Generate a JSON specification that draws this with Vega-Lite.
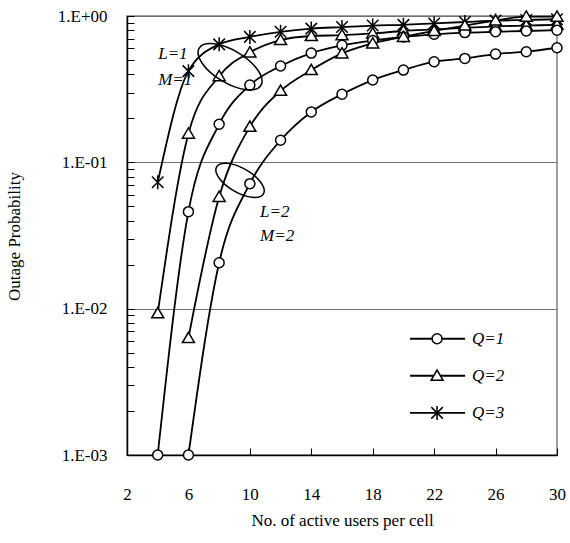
{
  "$schema": "https://vega.github.io/schema/vega-lite/v6.json",
  "width": 430,
  "height": 439,
  "autosize": {"type": "none"},
  "padding": {"left": 127, "top": 16, "right": 13, "bottom": 88},
  "config": {
    "view": {"stroke": "#808080", "strokeWidth": 1.5},
    "font": "Liberation Serif",
    "axis": {"labelFont": "Liberation Serif", "titleFont": "Liberation Serif", "labelColor": "black", "titleColor": "black", "titleFontWeight": "normal"}
  },
  "datasets": {
    "curves": [
      {"s": "L1Q3", "Q": "Q=3", "n": 4, "p": 0.073},
      {"s": "L1Q3", "Q": "Q=3", "n": 6, "p": 0.42},
      {"s": "L1Q3", "Q": "Q=3", "n": 8, "p": 0.64},
      {"s": "L1Q3", "Q": "Q=3", "n": 10, "p": 0.72},
      {"s": "L1Q3", "Q": "Q=3", "n": 12, "p": 0.78},
      {"s": "L1Q3", "Q": "Q=3", "n": 14, "p": 0.82},
      {"s": "L1Q3", "Q": "Q=3", "n": 16, "p": 0.84},
      {"s": "L1Q3", "Q": "Q=3", "n": 18, "p": 0.86},
      {"s": "L1Q3", "Q": "Q=3", "n": 20, "p": 0.87},
      {"s": "L1Q3", "Q": "Q=3", "n": 22, "p": 0.89},
      {"s": "L1Q3", "Q": "Q=3", "n": 24, "p": 0.91},
      {"s": "L1Q3", "Q": "Q=3", "n": 26, "p": 0.93},
      {"s": "L1Q3", "Q": "Q=3", "n": 28, "p": 0.94},
      {"s": "L1Q3", "Q": "Q=3", "n": 30, "p": 0.95},
      {"s": "L1Q2", "Q": "Q=2", "n": 4, "p": 0.0093},
      {"s": "L1Q2", "Q": "Q=2", "n": 6, "p": 0.157},
      {"s": "L1Q2", "Q": "Q=2", "n": 8, "p": 0.388},
      {"s": "L1Q2", "Q": "Q=2", "n": 10, "p": 0.564},
      {"s": "L1Q2", "Q": "Q=2", "n": 12, "p": 0.685},
      {"s": "L1Q2", "Q": "Q=2", "n": 14, "p": 0.73},
      {"s": "L1Q2", "Q": "Q=2", "n": 16, "p": 0.74},
      {"s": "L1Q2", "Q": "Q=2", "n": 18, "p": 0.76},
      {"s": "L1Q2", "Q": "Q=2", "n": 20, "p": 0.79},
      {"s": "L1Q2", "Q": "Q=2", "n": 22, "p": 0.81},
      {"s": "L1Q2", "Q": "Q=2", "n": 24, "p": 0.83},
      {"s": "L1Q2", "Q": "Q=2", "n": 26, "p": 0.85},
      {"s": "L1Q2", "Q": "Q=2", "n": 28, "p": 0.86},
      {"s": "L1Q2", "Q": "Q=2", "n": 30, "p": 0.87},
      {"s": "L1Q1", "Q": "Q=1", "n": 4, "p": 0.001},
      {"s": "L1Q1", "Q": "Q=1", "n": 6, "p": 0.046},
      {"s": "L1Q1", "Q": "Q=1", "n": 8, "p": 0.182},
      {"s": "L1Q1", "Q": "Q=1", "n": 10, "p": 0.337},
      {"s": "L1Q1", "Q": "Q=1", "n": 12, "p": 0.455},
      {"s": "L1Q1", "Q": "Q=1", "n": 14, "p": 0.558},
      {"s": "L1Q1", "Q": "Q=1", "n": 16, "p": 0.63},
      {"s": "L1Q1", "Q": "Q=1", "n": 18, "p": 0.68},
      {"s": "L1Q1", "Q": "Q=1", "n": 20, "p": 0.72},
      {"s": "L1Q1", "Q": "Q=1", "n": 22, "p": 0.75},
      {"s": "L1Q1", "Q": "Q=1", "n": 24, "p": 0.77},
      {"s": "L1Q1", "Q": "Q=1", "n": 26, "p": 0.78},
      {"s": "L1Q1", "Q": "Q=1", "n": 28, "p": 0.79},
      {"s": "L1Q1", "Q": "Q=1", "n": 30, "p": 0.80},
      {"s": "L2Q2", "Q": "Q=2", "n": 6, "p": 0.0063},
      {"s": "L2Q2", "Q": "Q=2", "n": 8, "p": 0.058},
      {"s": "L2Q2", "Q": "Q=2", "n": 10, "p": 0.175},
      {"s": "L2Q2", "Q": "Q=2", "n": 12, "p": 0.308},
      {"s": "L2Q2", "Q": "Q=2", "n": 14, "p": 0.427},
      {"s": "L2Q2", "Q": "Q=2", "n": 16, "p": 0.555},
      {"s": "L2Q2", "Q": "Q=2", "n": 18, "p": 0.65},
      {"s": "L2Q2", "Q": "Q=2", "n": 20, "p": 0.72},
      {"s": "L2Q2", "Q": "Q=2", "n": 22, "p": 0.79},
      {"s": "L2Q2", "Q": "Q=2", "n": 24, "p": 0.86},
      {"s": "L2Q2", "Q": "Q=2", "n": 26, "p": 0.93},
      {"s": "L2Q2", "Q": "Q=2", "n": 28, "p": 0.99},
      {"s": "L2Q2", "Q": "Q=2", "n": 30, "p": 0.99},
      {"s": "L2Q1", "Q": "Q=1", "n": 6, "p": 0.001},
      {"s": "L2Q1", "Q": "Q=1", "n": 8, "p": 0.0206},
      {"s": "L2Q1", "Q": "Q=1", "n": 10, "p": 0.0715},
      {"s": "L2Q1", "Q": "Q=1", "n": 12, "p": 0.1415},
      {"s": "L2Q1", "Q": "Q=1", "n": 14, "p": 0.221},
      {"s": "L2Q1", "Q": "Q=1", "n": 16, "p": 0.292},
      {"s": "L2Q1", "Q": "Q=1", "n": 18, "p": 0.365},
      {"s": "L2Q1", "Q": "Q=1", "n": 20, "p": 0.427},
      {"s": "L2Q1", "Q": "Q=1", "n": 22, "p": 0.487},
      {"s": "L2Q1", "Q": "Q=1", "n": 24, "p": 0.513},
      {"s": "L2Q1", "Q": "Q=1", "n": 26, "p": 0.549},
      {"s": "L2Q1", "Q": "Q=1", "n": 28, "p": 0.570},
      {"s": "L2Q1", "Q": "Q=1", "n": 30, "p": 0.607}
    ],
    "legendRows": [
      {"Q": "Q=1", "n": 22.19, "p": 0.00623},
      {"Q": "Q=2", "n": 22.19, "p": 0.00348},
      {"Q": "Q=3", "n": 22.19, "p": 0.00194}
    ]
  },
  "layer": [
    {
      "data": {"name": "curves"},
      "mark": {"type": "line", "interpolate": "monotone", "color": "black", "strokeWidth": 1.8},
      "encoding": {
        "x": {
          "field": "n", "type": "quantitative",
          "scale": {"domain": [2, 30], "nice": false, "zero": false},
          "axis": {
            "title": "No. of active users per cell",
            "values": [2, 6, 10, 14, 18, 22, 26, 30],
            "grid": false,
            "domainColor": "black", "domainWidth": 1.5,
            "tickColor": "black", "tickSize": -7, "tickWidth": 1,
            "labelFontSize": 17, "labelPadding": 38, "labelFlush": false,
            "titleFontSize": 17, "titleY": 65, "titleBaseline": "middle"
          }
        },
        "y": {
          "field": "p", "type": "quantitative",
          "scale": {"type": "log", "domain": [0.001, 1], "nice": false},
          "axis": {
            "title": "Outage Probability",
            "values": [0.001, 0.002, 0.003, 0.004, 0.005, 0.006, 0.007, 0.008, 0.009, 0.01, 0.02, 0.03, 0.04, 0.05, 0.06, 0.07, 0.08, 0.09, 0.1, 0.2, 0.3, 0.4, 0.5, 0.6, 0.7, 0.8, 0.9, 1],
            "labelExpr": "abs(log(datum.value)/LN10 - round(log(datum.value)/LN10)) < 0.001 ? (datum.value >= 0.999 ? '1.E+00' : '1.E-0' + round(-log(datum.value)/LN10)) : ''",
            "grid": true,
            "gridColor": "#707070", "gridWidth": 1.2,
            "gridOpacity": {"condition": {"test": "abs(log(datum.value)/LN10 - round(log(datum.value)/LN10)) < 0.001", "value": 1}, "value": 0},
            "domainColor": "black", "domainWidth": 1.5,
            "tickColor": "black", "tickSize": -7, "tickWidth": 1,
            "labelFontSize": 17, "labelPadding": 27, "labelFlush": false, "labelBaseline": "middle",
            "titleFontSize": 17, "titleX": -113, "titleY": 220, "titleBaseline": "middle", "titleAngle": -90, "titleAlign": "center"
          }
        },
        "detail": {"field": "s"}
      }
    },
    {
      "data": {"name": "curves"},
      "mark": {"type": "point", "filled": true, "fill": "white", "stroke": "black", "strokeWidth": 1.5, "size": 100, "opacity": 1},
      "encoding": {
        "x": {"field": "n", "type": "quantitative"},
        "y": {"field": "p", "type": "quantitative"},
        "shape": {
          "field": "Q", "type": "nominal",
          "scale": {
            "domain": ["Q=1", "Q=2", "Q=3"],
            "range": [
              "M -1 0 A 1 1 0 1 1 1 0 A 1 1 0 1 1 -1 0 Z",
              "M 0 -1.15 L 1.2 0.9 L -1.2 0.9 Z",
              "M 0 -1.4 L 0 1.4 M -1.15 -1.15 L 1.15 1.15 M -1.15 1.15 L 1.15 -1.15"
            ]
          },
          "legend": null
        }
      }
    },
    {
      "data": {"name": "legendRows"},
      "mark": {"type": "rule", "color": "black", "strokeWidth": 1.8, "xOffset": -27, "x2Offset": 28},
      "encoding": {
        "x": {"field": "n", "type": "quantitative"},
        "x2": {"field": "n"},
        "y": {"field": "p", "type": "quantitative"}
      }
    },
    {
      "data": {"name": "legendRows"},
      "mark": {"type": "point", "filled": true, "fill": "white", "stroke": "black", "strokeWidth": 1.5, "size": 100, "opacity": 1},
      "encoding": {
        "x": {"field": "n", "type": "quantitative"},
        "y": {"field": "p", "type": "quantitative"},
        "shape": {"field": "Q", "type": "nominal", "legend": null}
      }
    },
    {
      "data": {"name": "legendRows"},
      "mark": {"type": "text", "align": "left", "baseline": "middle", "dx": 35, "font": "Liberation Serif", "fontSize": 17, "fontStyle": "italic", "color": "black"},
      "encoding": {
        "x": {"field": "n", "type": "quantitative"},
        "y": {"field": "p", "type": "quantitative"},
        "text": {"field": "Q"}
      }
    },
    {
      "data": {"values": [{"n": 8.71, "p": 0.45}]},
      "mark": {"type": "point", "shape": "M -1 0 A 1 0.45 0 1 0 1 0 A 1 0.45 0 1 0 -1 0", "size": 5184, "angle": 31, "filled": false, "stroke": "black", "strokeWidth": 1.5, "opacity": 1},
      "encoding": {
        "x": {"field": "n", "type": "quantitative"},
        "y": {"field": "p", "type": "quantitative"}
      }
    },
    {
      "data": {"values": [{"n": 9.36, "p": 0.0753}]},
      "mark": {"type": "point", "shape": "M -1 0 A 1 0.45 0 1 0 1 0 A 1 0.45 0 1 0 -1 0", "size": 2916, "angle": 30, "filled": false, "stroke": "black", "strokeWidth": 1.5, "opacity": 1},
      "encoding": {
        "x": {"field": "n", "type": "quantitative"},
        "y": {"field": "p", "type": "quantitative"}
      }
    },
    {
      "data": {"values": [
        {"n": 4.03, "p": 0.55, "t": "L=1"},
        {"n": 4.03, "p": 0.365, "t": "M=1"},
        {"n": 10.66, "p": 0.0457, "t": "L=2"},
        {"n": 10.66, "p": 0.0316, "t": "M=2"}
      ]},
      "mark": {"type": "text", "align": "left", "baseline": "middle", "font": "Liberation Serif", "fontSize": 17, "fontStyle": "italic", "color": "black"},
      "encoding": {
        "x": {"field": "n", "type": "quantitative"},
        "y": {"field": "p", "type": "quantitative"},
        "text": {"field": "t"}
      }
    }
  ]
}
